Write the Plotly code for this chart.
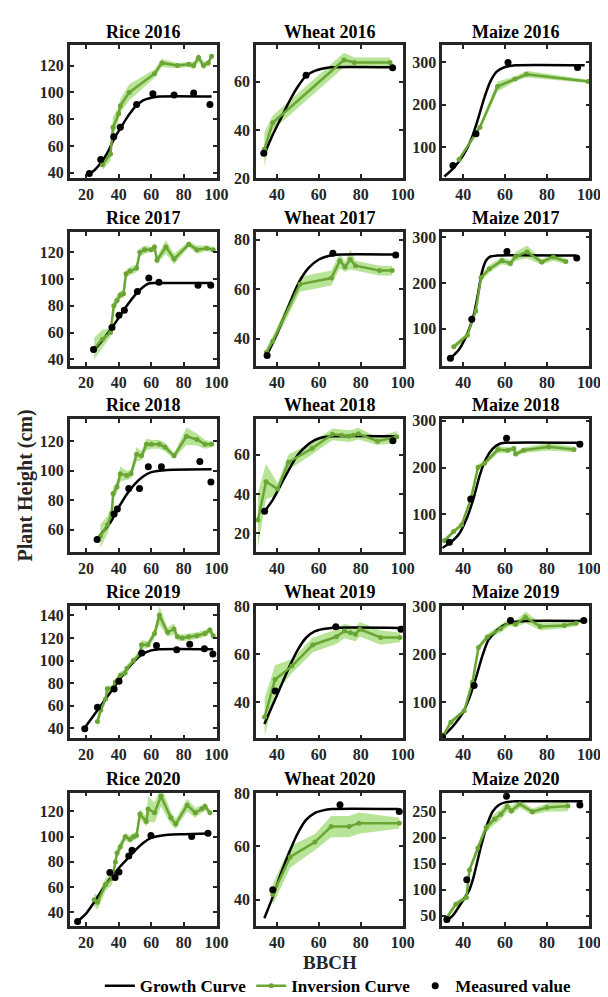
import plotly.graph_objects as go

# ---------------- data ----------------
panel_names = ["Rice 2016", "Wheat 2016", "Maize 2016",
               "Rice 2017", "Wheat 2017", "Maize 2017",
               "Rice 2018", "Wheat 2018", "Maize 2018",
               "Rice 2019", "Wheat 2019", "Maize 2019",
               "Rice 2020", "Wheat 2020", "Maize 2020"]

# Rice 2016
r16_fit_x = [22, 26, 30, 34, 37, 41, 45, 50, 55, 60, 65, 97]
r16_fit_y = [39, 43, 49, 57, 65, 73, 81, 89, 94, 96, 97, 97]
r16_meas_x = [22, 29, 37, 41, 51, 61, 74, 86, 96]
r16_meas_y = [39.5, 50, 67, 74, 91, 99, 98, 99.5, 91]
r16_inv_x = [30, 35, 36.5, 40, 41, 46.5, 62, 66.5, 76, 83, 86, 89, 92, 95, 97]
r16_inv_y = [46, 54, 74, 84, 90, 100, 114, 122, 120, 121, 120, 126, 120, 122, 127]
r16_inv_s = [4, 5, 8, 5, 5, 6, 3, 3, 2, 2, 3, 3, 3, 2, 2]

# Rice 2017
r17_fit_x = [25, 30, 35, 40, 45, 50, 55, 58, 62, 97]
r17_fit_y = [47, 54, 62, 71, 80, 88, 94, 96.5, 97, 97]
r17_meas_x = [24.6, 35.9, 40.2, 43.5, 51.5, 58.5, 64.7, 88.7, 96.5]
r17_meas_y = [47.3, 63.8, 73, 76.6, 90.7, 100.8, 97.6, 95.4, 95.4]
r17_inv_x = [25, 30, 35, 37, 39, 41, 43, 44.5, 47, 51, 53, 56, 60, 62, 63.5, 69, 74, 83, 88, 94, 98]
r17_inv_y = [48, 55, 60, 80, 84, 88, 89, 104, 106, 108, 120, 122, 122, 124, 114, 124, 115, 126, 122, 123, 122]
r17_inv_s = [8, 7, 3, 4, 4, 3, 3, 3, 3, 3, 3, 3, 2, 3, 3, 5, 4, 2, 3, 2, 2]

# Rice 2018
r18_fit_x = [27, 30, 35, 40, 45, 50, 55, 60, 70, 97]
r18_fit_y = [54, 58, 65, 75, 84, 91, 96, 99, 100.5, 101]
r18_meas_x = [26.8, 37.2, 39.2, 46.2, 52.8, 58.2, 66.2, 89.8, 96.6]
r18_meas_y = [53.3, 70.5, 74, 87.8, 87.8, 102.7, 102.7, 106.2, 92.2]
r18_inv_x = [28.8, 33.2, 35.8, 36.6, 39, 41, 45, 47.6, 51, 54, 57, 60, 65, 68.4, 74, 81.6, 88, 93, 97]
r18_inv_y = [55.6, 63.3, 71.1, 84.4, 88.9, 97.8, 96.7, 97.8, 111.1, 110, 117.8, 117.8, 117.8, 116, 110, 123.3, 121.1, 117.8, 117.8]
r18_inv_s = [8, 6, 5, 4, 4, 5, 3, 3, 5, 3, 4, 3, 3, 3, 2, 6, 4, 3, 2]

# Rice 2019
r19_fit_x = [19, 25, 30, 35, 40, 45, 50, 55, 60, 65, 98]
r19_fit_y = [40, 52, 62, 72, 82, 92, 100, 106, 109, 110, 110]
r19_meas_x = [19.2, 27, 37.2, 40.2, 54.2, 63.2, 75.6, 83.6, 92.6, 97.8]
r19_meas_y = [39.7, 58.6, 74.8, 81.7, 106.7, 113.4, 109.6, 114.5, 110.4, 105.8]
r19_inv_x = [27, 29, 32, 33, 36, 38, 41, 44, 45, 49, 53, 54, 58, 62, 65, 70, 74, 76, 79, 83, 88, 93, 96, 98]
r19_inv_y = [46, 56, 66, 75, 75, 81, 87, 89, 93, 100, 106, 114, 114, 124, 140, 125, 128, 121, 120, 121, 122, 124, 127, 122]
r19_inv_s = [6, 4, 3, 3, 3, 3, 3, 3, 3, 3, 3, 4, 3, 4, 8, 4, 5, 3, 3, 3, 3, 3, 3, 3]

# Rice 2020
r20_fit_x = [15, 20, 25, 30, 35, 40, 45, 50, 55, 60, 70, 80, 95]
r20_fit_y = [33, 39, 48, 58, 67, 75, 82, 89, 95, 99, 101.5, 102, 102.5]
r20_meas_x = [14.8, 34.6, 37.8, 40.2, 46.2, 48.2, 59.8, 84.8, 94.8]
r20_meas_y = [32.8, 71.6, 67.7, 71.9, 84.6, 89.3, 101, 100.2, 102.8]
r20_inv_x = [25, 27, 32, 36, 38, 39, 41, 44, 47, 49, 51, 53, 57, 58, 62, 66, 72, 75, 82, 87, 91, 93, 96]
r20_inv_y = [50, 48, 62, 67, 80, 87, 92, 100, 98, 100, 101, 118, 112, 122, 119, 132, 115, 110, 125, 119, 122, 124, 119]
r20_inv_s = [5, 6, 5, 5, 4, 4, 4, 3, 3, 3, 3, 4, 4, 10, 8, 8, 5, 4, 5, 4, 3, 3, 2]

# Wheat 2016
w16_fit_x = [34, 38, 42, 46, 50, 54, 58, 62, 66, 96]
w16_fit_y = [30, 38, 45, 52, 58, 62.5, 64.5, 65.5, 66, 66]
w16_meas_x = [33.7, 53.9, 95.2]
w16_meas_y = [30.3, 62.7, 65.8]
w16_inv_x = [34, 38, 72, 77, 94]
w16_inv_y = [32, 43, 69, 68, 68]
w16_inv_s = [7, 3, 3, 2, 2]

# Wheat 2017
w17_fit_x = [35, 40, 45, 50, 55, 60, 65, 70, 97]
w17_fit_y = [33, 42, 52, 62, 68.5, 72, 73.5, 74, 74]
w17_meas_x = [35.3, 66.7, 96.7]
w17_meas_y = [33.2, 74.5, 73.8]
w17_inv_x = [35, 38, 51, 66, 70, 72.5, 75, 77.5, 89, 95]
w17_inv_y = [34.5, 39, 62, 64.5, 71.5, 69, 72, 69.5, 67.5, 67.5]
w17_inv_s = [2, 2, 3, 3, 3, 2, 4, 2, 2, 2]

# Wheat 2018
w18_fit_x = [34, 38, 42, 46, 50, 54, 58, 62, 66, 97]
w18_fit_y = [31, 37, 45, 53, 60, 64.5, 67.5, 69, 69.5, 69.5]
w18_meas_x = [34.1, 95.3]
w18_meas_y = [31.2, 67.2]
w18_inv_x = [30.9, 34.8, 40.3, 45.5, 56.8, 66.5, 70.9, 74.3, 76.4, 78.8, 88, 97.2]
w18_inv_y = [26.7, 46.3, 42.5, 56.2, 63.3, 70.5, 70, 69.5, 70, 70.8, 67, 69.2]
w18_inv_s = [14, 9, 3, 4, 3, 3, 3, 3, 3, 3, 2, 3]

# Wheat 2019
w19_fit_x = [34, 38, 42, 46, 50, 54, 58, 62, 66, 99]
w19_fit_y = [31, 39, 47, 55, 62, 67, 69.5, 70.5, 71, 71]
w19_meas_x = [39.2, 68.1, 99.2]
w19_meas_y = [44.7, 71.5, 70.4]
w19_inv_x = [34.1, 39.1, 47.1, 57.1, 68.3, 72.2, 75, 77.5, 79.6, 89.5, 98.7]
w19_inv_y = [33.9, 49.5, 55.1, 63.9, 67.3, 69.7, 69, 68.4, 70.4, 67, 67]
w19_inv_s = [8, 6, 3, 3, 3, 3, 3, 3, 3, 3, 2]

# Wheat 2020
w20_fit_x = [34, 38, 42, 46, 50, 54, 58, 62, 66, 98]
w20_fit_y = [33, 41, 50, 58, 65, 70, 72.5, 73.5, 74, 74]
w20_meas_x = [38, 70.1, 98.4]
w20_meas_y = [43.7, 75.6, 73.1]
w20_inv_x = [38, 46.3, 58.1, 65.9, 74.4, 79.1, 98.4]
w20_inv_y = [41.9, 56, 61.6, 67.4, 67.4, 68.7, 68.7]
w20_inv_s = [4, 4, 3, 4, 4, 4, 2]

# Maize 2016
m16_fit_x = [31, 35, 40, 44, 47, 50, 53, 56, 60, 65, 98]
m16_fit_y = [30, 48, 80, 120, 165, 215, 255, 278, 289, 293, 293]
m16_meas_x = [35.1, 46.1, 61.4, 94.6]
m16_meas_y = [55.8, 131, 300, 288]
m16_inv_x = [38, 48, 56.4, 64.7, 70.2, 99.6]
m16_inv_y = [70.5, 146.5, 243, 260.5, 272, 255]
m16_inv_s = [4, 6, 12, 6, 8, 4]

# Maize 2017
m17_fit_x = [34, 38, 42, 45, 47, 49, 51, 53, 56, 94]
m17_fit_y = [36, 55, 90, 130, 175, 225, 250, 258, 260, 260]
m17_meas_x = [33.9, 44.1, 60.9, 94.2]
m17_meas_y = [36, 121, 269, 255]
m17_inv_x = [35.5, 42, 46, 48.5, 52.5, 58.5, 62.5, 65, 70.5, 77.5, 83, 89]
m17_inv_y = [61, 86, 139, 212, 231, 249, 243, 258, 268, 246, 257, 247]
m17_inv_s = [6, 6, 7, 8, 8, 8, 7, 10, 14, 6, 8, 6]

# Maize 2018
m18_fit_x = [30, 34, 38, 42, 45, 48, 51, 54, 57, 60, 97]
m18_fit_y = [28, 40, 58, 95, 135, 185, 220, 240, 250, 253, 253]
m18_meas_x = [33.4, 43.6, 60.7, 95.7]
m18_meas_y = [40, 132.6, 263, 250]
m18_inv_x = [31, 35.4, 39.2, 43.6, 47.1, 50.2, 56.6, 61.3, 64.2, 65, 68.9, 80.8, 92.9]
m18_inv_y = [43.5, 63, 77, 132, 201, 209.4, 238.7, 237, 241, 229, 237, 244.5, 238.7]
m18_inv_s = [5, 5, 5, 6, 6, 6, 8, 6, 6, 6, 6, 8, 6]

# Maize 2019
m19_fit_x = [30, 35, 40, 43, 46, 49, 52, 56, 60, 65, 70, 98]
m19_fit_y = [28, 50, 80, 110, 150, 195, 230, 250, 262, 268, 270, 270]
m19_meas_x = [30.1, 45.2, 62.6, 97.6]
m19_meas_y = [28, 135.5, 270.7, 270.7]
m19_inv_x = [30.7, 34.1, 40.5, 44.4, 47.3, 51.5, 57.8, 62.2, 65, 69.7, 76.8, 88.2, 93.9]
m19_inv_y = [33, 59, 82.8, 142.2, 214.7, 236.5, 253.7, 267.2, 263, 277.5, 258.4, 260.5, 265]
m19_inv_s = [3, 5, 5, 6, 6, 6, 8, 8, 6, 12, 8, 6, 6]

# Maize 2020
m20_fit_x = [31, 35, 40, 43, 45, 48, 51, 54, 57, 60, 65, 97]
m20_fit_y = [38, 50, 80, 100, 125, 175, 220, 250, 263, 268, 270, 270]
m20_meas_x = [32.2, 41.7, 60.7, 95.7]
m20_meas_y = [42.3, 119, 280, 262.8]
m20_inv_x = [32, 36.5, 41.5, 43, 47, 51, 55, 58, 61, 63, 67, 73, 80, 90]
m20_inv_y = [45, 72, 85, 138, 180, 220, 236, 245, 260, 252, 265, 250, 258, 261]
m20_inv_s = [5, 5, 5, 6, 8, 10, 10, 10, 10, 8, 8, 6, 8, 10]

legend_names = ["Growth Curve", "Inversion Curve", "Measured value"]

panel_data = [
    (r16_fit_x, r16_fit_y, r16_meas_x, r16_meas_y, r16_inv_x, r16_inv_y, r16_inv_s),
    (w16_fit_x, w16_fit_y, w16_meas_x, w16_meas_y, w16_inv_x, w16_inv_y, w16_inv_s),
    (m16_fit_x, m16_fit_y, m16_meas_x, m16_meas_y, m16_inv_x, m16_inv_y, m16_inv_s),
    (r17_fit_x, r17_fit_y, r17_meas_x, r17_meas_y, r17_inv_x, r17_inv_y, r17_inv_s),
    (w17_fit_x, w17_fit_y, w17_meas_x, w17_meas_y, w17_inv_x, w17_inv_y, w17_inv_s),
    (m17_fit_x, m17_fit_y, m17_meas_x, m17_meas_y, m17_inv_x, m17_inv_y, m17_inv_s),
    (r18_fit_x, r18_fit_y, r18_meas_x, r18_meas_y, r18_inv_x, r18_inv_y, r18_inv_s),
    (w18_fit_x, w18_fit_y, w18_meas_x, w18_meas_y, w18_inv_x, w18_inv_y, w18_inv_s),
    (m18_fit_x, m18_fit_y, m18_meas_x, m18_meas_y, m18_inv_x, m18_inv_y, m18_inv_s),
    (r19_fit_x, r19_fit_y, r19_meas_x, r19_meas_y, r19_inv_x, r19_inv_y, r19_inv_s),
    (w19_fit_x, w19_fit_y, w19_meas_x, w19_meas_y, w19_inv_x, w19_inv_y, w19_inv_s),
    (m19_fit_x, m19_fit_y, m19_meas_x, m19_meas_y, m19_inv_x, m19_inv_y, m19_inv_s),
    (r20_fit_x, r20_fit_y, r20_meas_x, r20_meas_y, r20_inv_x, r20_inv_y, r20_inv_s),
    (w20_fit_x, w20_fit_y, w20_meas_x, w20_meas_y, w20_inv_x, w20_inv_y, w20_inv_s),
    (m20_fit_x, m20_fit_y, m20_meas_x, m20_meas_y, m20_inv_x, m20_inv_y, m20_inv_s),
]

# ---------------- layout (pixels / axis ranges) ----------------
W, H = 608, 997
FONT = "Liberation Serif"
AX = "#262626"
GREEN = "#6aa535"
BAND = "rgba(135,210,80,0.6)"

col_px = [(63, 213), (253, 403), (443, 593)]
row_px = [(30, 165), (220, 356), (410, 545), (600, 735), (790, 926)]

x_ranges = {"Rice": [10, 100.2], "Wheat": [30, 100.2], "Maize": [30, 100.2]}
y_ranges = [[36, 135], [20, 75], [26, 340],
            [35, 135], [29, 83], [19, 311],
            [45, 135], [10.5, 78.3], [20, 304],
            [31, 148.5], [25, 80.2], [25, 301.5],
            [29, 135], [30, 80.2], [29.5, 287]]
y_dticks = [20, 20, 100, 20, 20, 100, 20, 20, 100, 20, 20, 100, 20, 20, 50]

fig = go.Figure()

for i, (name, d) in enumerate(zip(panel_names, panel_data)):
    fx, fy, mx, my, ix, iy, is_ = d
    xa = "x" if i == 0 else f"x{i+1}"
    ya = "y" if i == 0 else f"y{i+1}"
    first = (i == 0)
    upper = [a + b for a, b in zip(iy, is_)]
    lower = [a - b for a, b in zip(iy, is_)]
    fig.add_trace(go.Scatter(x=list(ix) + list(ix[::-1]), y=upper + lower[::-1],
                             fill="toself", fillcolor=BAND, line=dict(width=0),
                             mode="lines", hoverinfo="skip", showlegend=False,
                             xaxis=xa, yaxis=ya))
    fig.add_trace(go.Scatter(x=fx, y=fy, mode="lines", name=legend_names[0],
                             line=dict(color="black", width=2.5, shape="spline", smoothing=0.7),
                             showlegend=first, legendgroup="g", xaxis=xa, yaxis=ya))
    fig.add_trace(go.Scatter(x=ix, y=iy, mode="lines+markers", name=legend_names[1],
                             line=dict(color=GREEN, width=2.5),
                             marker=dict(color=GREEN, size=5),
                             showlegend=first, legendgroup="i", xaxis=xa, yaxis=ya))
    fig.add_trace(go.Scatter(x=mx, y=my, mode="markers", name=legend_names[2],
                             marker=dict(color="black", size=7),
                             showlegend=first, legendgroup="m", xaxis=xa, yaxis=ya))

    r, c = divmod(i, 3)
    x0, x1 = col_px[c]
    t, b = row_px[r]
    crop = name.split()[0]
    axis_common = dict(showline=True, linecolor=AX, linewidth=2.5, mirror="allticks",
                       ticks="inside", ticklen=4, tickwidth=1.5, tickcolor=AX,
                       showgrid=False, zeroline=False,
                       tickfont=dict(family=FONT, size=16, color=AX, weight="bold"))
    xkey = "xaxis" if i == 0 else f"xaxis{i+1}"
    ykey = "yaxis" if i == 0 else f"yaxis{i+1}"
    fig.update_layout({
        xkey: dict(domain=[x0 / W, x1 / W], range=x_ranges[crop], anchor=ya,
                   tick0=0, dtick=20, **axis_common),
        ykey: dict(domain=[1 - b / H, 1 - t / H], range=y_ranges[i], anchor=xa,
                   tick0=0, dtick=y_dticks[i], **axis_common),
    })
    fig.add_annotation(text=name, x=(x0 + x1) / 2 / W, y=1 - (t - 2) / H,
                       xref="paper", yref="paper", xanchor="center", yanchor="bottom",
                       showarrow=False,
                       font=dict(family=FONT, size=18, color="black", weight="bold"))

fig.add_annotation(text="Plant Height (cm)", x=18 / W, y=1 - 478 / H, xref="paper", yref="paper",
                   textangle=-90, showarrow=False, xanchor="center", yanchor="middle",
                   font=dict(family=FONT, size=20, color=AX, weight="bold"))
fig.add_annotation(text="BBCH", x=328 / W, y=1 - 963 / H, xref="paper", yref="paper",
                   showarrow=False, xanchor="center", yanchor="middle",
                   font=dict(family=FONT, size=19, color=AX, weight="bold"))

fig.update_layout(
    width=W, height=H, margin=dict(l=0, r=0, t=0, b=0),
    paper_bgcolor="white", plot_bgcolor="white",
    legend=dict(orientation="h", x=337 / W, y=1 - 987 / H, xanchor="center", yanchor="middle",
                font=dict(family=FONT, size=17, color="black", weight="bold"),
                itemwidth=30, tracegroupgap=0, bgcolor="rgba(0,0,0,0)"),
)

fig.write_html("out.html")
